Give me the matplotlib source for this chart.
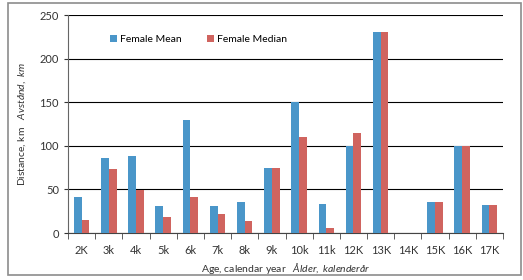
import matplotlib
matplotlib.use("Agg")
import matplotlib.pyplot as plt
import numpy as np
from matplotlib.patches import Rectangle

categories = ["2K", "3k", "4k", "5k", "6k", "7k", "8k", "9k", "10k", "11k",
              "12K", "13K", "14K", "15K", "16K", "17K"]
female_mean = [41, 86, 88, 31, 130, 31, 35, 75, 150, 33, 100, 230, 0, 36, 100, 32]
female_median = [15, 73, 49, 18, 41, 22, 14, 75, 110, 6, 115, 230, 0, 36, 100, 32]

plt.rcParams["font.family"] = ["Lato", "DejaVu Sans"]
plt.rcParams["mathtext.fontset"] = "custom"
plt.rcParams["mathtext.it"] = "Lato:italic"
plt.rcParams["mathtext.rm"] = "Lato"

fig = plt.figure(figsize=(5.23, 2.80), dpi=100)
fig.patches.append(Rectangle((8 / 523, 1 - 275 / 280), 513 / 523, 272 / 280,
                             transform=fig.transFigure, fill=False,
                             edgecolor="#8c8c8c", linewidth=1.2))
ax = fig.add_axes([68 / 523, 1 - 233 / 280, 435 / 523, 218 / 280])

x = np.arange(len(categories))
w = 1 / 3.5
ax.bar(x - w / 2, female_mean, width=w, color="#4a96c9", label="Female Mean", zorder=3)
ax.bar(x + w / 2, female_median, width=w, color="#d0645f", label="Female Median", zorder=3)

ax.set_xlim(-0.5, len(categories) - 0.5)
ax.set_ylim(0, 250)
ax.set_yticks([0, 50, 100, 150, 200, 250])
ax.yaxis.grid(True, color="black", linewidth=0.8)
ax.set_axisbelow(True)
ax.set_xticks(x)
ax.set_xticklabels(categories)
ax.set_xticks(np.arange(-0.5, len(categories)), minor=True)
ax.tick_params(axis="x", which="major", length=0, labelsize=8, pad=9, colors="#333333")
ax.tick_params(axis="x", which="minor", length=4, direction="out", color="#444444")
ax.tick_params(axis="y", length=3, direction="out", labelsize=8, colors="#333333")
for side in ["top", "right"]:
    ax.spines[side].set_visible(False)
ax.spines["left"].set_color("#666666")
ax.spines["bottom"].set_color("#444444")

ax.set_xlabel(r"Age, calendar year   $\mathit{\AA lder,\ kalender\aa r}$", fontsize=7.5,
              color="#333333", labelpad=3)
ax.set_ylabel(r"Distance, km   $\mathit{Avst\aa nd,\ km}$", fontsize=7.5,
              color="#333333", labelpad=8)

ax.legend(loc="upper center", bbox_to_anchor=(0.30, 0.95), ncol=2, frameon=False,
          fontsize=7.5, handlelength=0.6, handleheight=0.6, columnspacing=2.5,
          handletextpad=0.3)

fig.savefig("out.png", dpi=100)
